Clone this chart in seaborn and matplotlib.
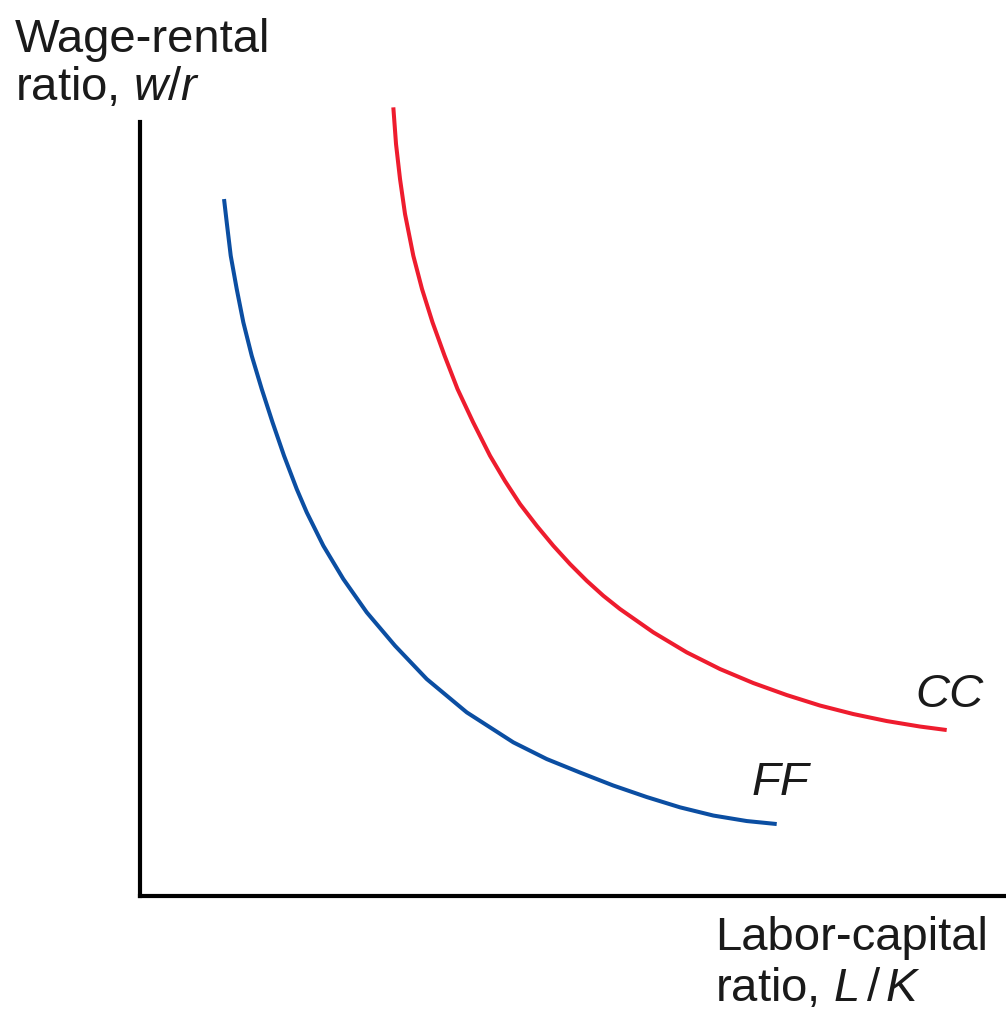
import pandas as pd
import matplotlib.pyplot as plt
import seaborn as sns

# curves (x = labor-capital ratio, y = wage-rental ratio)
ff_x = [0.84, 0.867, 0.907, 0.967, 1.033, 1.117, 1.217, 1.325, 1.44, 1.567, 1.667, 1.833, 2.033,
        2.267, 2.55, 2.867, 3.267, 3.733, 4.067, 4.40, 4.733, 5.067, 5.40, 5.733, 6.067, 6.367]
ff_y = [6.97, 6.737, 6.403, 6.07, 5.737, 5.403, 5.07, 4.737, 4.403, 4.07, 3.837, 3.503, 3.17,
        2.837, 2.503, 2.17, 1.837, 1.537, 1.37, 1.235, 1.105, 0.99, 0.887, 0.805, 0.75, 0.72]

cc_x = [2.533, 2.56, 2.60, 2.65, 2.733, 2.82, 2.925, 3.045, 3.175, 3.33, 3.50, 3.65, 3.80, 3.967, 4.133,
        4.30, 4.467, 4.633, 4.80, 5.133, 5.467, 5.80, 6.133, 6.467, 6.80, 7.133, 7.467, 7.80, 8.067]
cc_y = [7.887, 7.52, 7.17, 6.82, 6.403, 6.07, 5.737, 5.405, 5.07, 4.74, 4.403, 4.15, 3.92, 3.703, 3.503,
        3.32, 3.153, 3.003, 2.87, 2.637, 2.437, 2.27, 2.13, 2.01, 1.905, 1.82, 1.75, 1.695, 1.66]

curves = pd.concat([
    pd.DataFrame({'lk': ff_x, 'wr': ff_y, 'curve': 'FF'}),
    pd.DataFrame({'lk': cc_x, 'wr': cc_y, 'curve': 'CC'}),
])

sns.set_style('white')
plt.rcParams['font.family'] = ['Liberation Sans', 'DejaVu Sans']
plt.rcParams['mathtext.fontset'] = 'custom'
plt.rcParams['mathtext.rm'] = 'Liberation Sans'
plt.rcParams['mathtext.it'] = 'Liberation Sans:italic'

fig = plt.figure(figsize=(10.06, 10.12), dpi=100)
ax = fig.add_axes([0.1392, 0.1136, 0.8608, 0.7648])

sns.lineplot(
    data=curves,
    x='lk',
    y='wr',
    hue='curve',
    palette={'FF': '#0b4ea2', 'CC': '#ee1c2e'},
    linewidth=2.9,
    legend=False,
    ax=ax,
)
for line in ax.lines:
    line.set_clip_on(False)
    line.set_solid_capstyle('butt')
    line.set_solid_joinstyle('round')

ax.set_xlim(0, 8.66)
ax.set_ylim(0, 7.74)
ax.set_xticks([])
ax.set_yticks([])
ax.set_xlabel('')
ax.set_ylabel('')
sns.despine(ax=ax)
for side in ['left', 'bottom']:
    ax.spines[side].set_linewidth(3)
    ax.spines[side].set_color('black')

ax.text(7.75, 1.90, 'CC', fontsize=34, style='italic', color='#1a1a1a', va='baseline')
ax.text(6.12, 1.02, 'FF', fontsize=34, style='italic', color='#1a1a1a', va='baseline')

fig.text(0.0149, 0.9486, 'Wage-rental', fontsize=34, color='#1a1a1a', va='baseline')
fig.text(0.0149, 0.9012, 'ratio, $w/r$', fontsize=34, color='#1a1a1a', va='baseline')
fig.text(0.7107, 0.0610, 'Labor-capital', fontsize=34, color='#1a1a1a', va='baseline')
fig.text(0.7107, 0.0110, 'ratio, $L\\,/\\,K$', fontsize=34, color='#1a1a1a', va='baseline')

plt.savefig('out.png', dpi=100)
